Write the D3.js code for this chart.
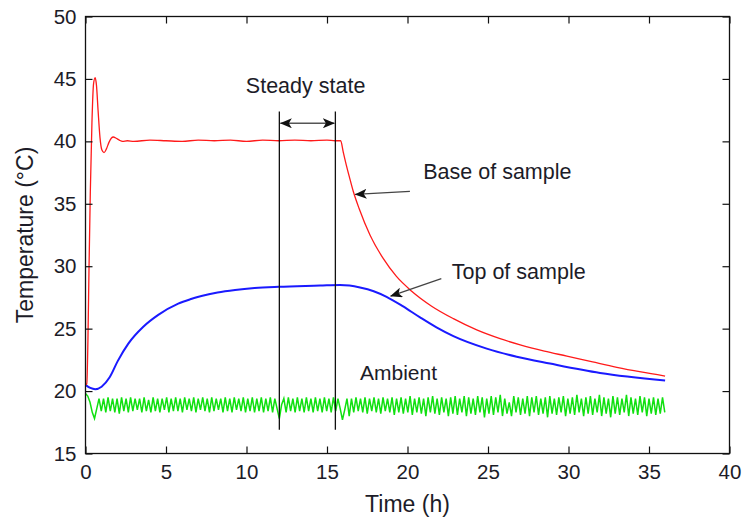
<!DOCTYPE html>
<html><head><meta charset="utf-8">
<script src="https://cdn.jsdelivr.net/npm/d3@7"></script>
<style>
body{margin:0;background:#fff;}
svg{display:block;}
text{font-family:"Liberation Sans",Arial,sans-serif;fill:#1c1c28;}
</style></head>
<body>
<svg id="chart" width="743" height="519"></svg>
<script>
// ---------- data ----------
const xTicks = [0,5,10,15,20,25,30,35,40];
const yTicks = [15,20,25,30,35,40,45,50];

const baseTime = [0,0.08,0.15,0.22,0.3,0.4,0.5,0.6,0.68,0.78,0.9,1.02,1.15,1.3,1.45,1.6,1.73,1.9,2.1,2.3,2.6,3,4,5,6,7,8,9,10,11,12,13,14,15,15.5,15.85,16.0,16.2,16.4,16.63,17.0,17.67,18.5,19.3,20.26,21.5,22.85,24.3,25.75,27,28.5,29.9,31.5,33,34.5,36];
const baseTemp = [20.5,20.6,24,30,36,41.5,44.6,45.1,44.5,42.5,40.3,39.3,39.1,39.4,39.9,40.25,40.35,40.25,40.1,40.0,40.05,40.0,40.1,40.05,40.0,40.1,40.05,40.1,40.0,40.1,40.05,40.1,40.05,40.1,40.05,40.05,39.2,38.1,37.1,36.0,34.6,32.5,30.6,29.2,28.0,26.8,25.8,24.9,24.2,23.7,23.2,22.8,22.33,21.9,21.53,21.2];

const topTime = [0,0.3,0.6,1.0,1.5,2.0,2.66,3.59,4.52,5.76,6.5,7.2,8.2,9.29,10.5,12,14.57,15.8,16.4,17.05,17.9,18.7,19.7,20.78,21.8,22.85,24.92,26.78,28.85,31.96,36];
const topTemp = [20.5,20.25,20.15,20.35,21.1,22.4,23.8,25.15,26.1,27.0,27.35,27.62,27.9,28.1,28.25,28.35,28.45,28.5,28.45,28.3,28.0,27.55,26.8,25.9,25.1,24.4,23.4,22.75,22.2,21.45,20.85];

const ambientStep = 0.14; // hours between ambient samples
const ambientTemp = [
19.8,19.6,19.1,18.3,17.8,18.6,19.4,18.4,19.4,18.3,19.5,18.4,19.4,18.3,19.4,18.2,19.5,18.4,19.4,18.3,
19.5,18.4,19.4,18.5,19.4,18.3,19.5,18.4,19.3,18.3,19.5,18.4,19.4,18.3,19.4,18.5,19.5,18.3,19.4,18.4,
19.5,18.4,19.4,18.3,19.5,18.5,19.4,18.4,19.5,18.3,19.4,18.5,19.5,18.4,19.4,18.3,19.5,18.4,19.4,18.5,
19.4,18.3,19.5,18.4,19.4,18.3,19.5,18.5,19.4,18.4,19.5,18.3,19.4,18.4,19.5,18.3,19.4,18.4,19.5,18.3,
19.4,18.4,19.5,18.3,19.4,18.6,17.8,18.9,19.4,18.3,19.5,18.4,19.4,18.3,19.5,18.4,19.4,18.3,19.5,18.4,
19.4,18.3,19.5,18.4,19.4,18.3,19.5,18.4,19.4,18.3,19.5,18.4,19.4,18.6,17.7,18.5,19.4,18.0,19.4,18.3,
19.5,18.4,19.4,18.3,19.5,18.2,19.4,18.4,19.5,18.3,19.4,18.2,19.5,18.4,19.4,18.3,19.5,18.1,19.4,18.3,
19.5,18.2,19.4,18.3,19.6,18.1,19.4,18.3,19.5,18.2,19.4,18.0,19.5,18.3,19.6,18.2,19.4,18.1,19.5,18.3,
19.4,18.0,19.5,18.2,19.6,18.1,19.4,18.3,19.6,18.0,19.5,18.2,19.4,18.1,19.6,18.3,19.5,17.9,19.4,18.2,
19.6,18.1,19.5,18.3,19.7,18.0,19.4,18.2,19.1,18.0,19.6,18.3,19.5,18.1,19.4,18.2,19.6,18.0,19.5,18.3,
19.6,18.1,19.4,18.2,19.5,17.9,19.6,18.2,19.4,18.1,19.5,18.3,19.6,18.0,19.4,18.2,19.5,18.1,19.7,18.3,
19.4,18.0,19.5,18.2,19.6,18.1,19.4,18.3,19.7,18.0,19.5,18.2,19.4,17.9,19.6,18.2,19.5,18.1,19.4,18.3,
19.7,18.0,19.5,18.2,19.4,18.1,19.6,18.3,19.5,18.0,19.4,18.2,19.5,18.1,19.4,18.2,19.5,18.3];

// steady-state window (h) and marker extent (°C)
const steadyStart = 12.04, steadyEnd = 15.52;
const steadyLineTemp = [16.9, 42.4];
const steadyArrowTemp = 41.45;

// annotation labels: text anchor (t, T) and arrow from (t,T) to (t,T)
const labels = [
  {text:"Steady state",   t:13.67, T:43.85, anchor:"middle"},
  {text:"Base of sample", t:20.98, T:37.0,  anchor:"start"},
  {text:"Top of sample",  t:22.75, T:29.0,  anchor:"start"},
  {text:"Ambient",        t:17.05, T:20.85, anchor:"start"}
];
const arrows = [
  {t1:20.15, T1:36.0, t2:16.75, T2:35.75},
  {t1:22.1,  T1:29.0, t2:18.95, T2:27.6}
];

// ---------- chart ----------
const svg = d3.select("#chart");
const L = 85.5, R = 729.5, T0 = 16.5, B = 453.5;
const x = d3.scaleLinear().domain([0,40]).range([L,R]);
const y = d3.scaleLinear().domain([15,50]).range([B,T0]);

const plot = svg.append("g");

// series
const line = d3.line().x(d=>x(d[0])).y(d=>y(d[1]));
const ambientPts = ambientTemp.map((v,i)=>[i*ambientStep, v]);
plot.append("path").datum(ambientPts).attr("fill","none").attr("stroke","#10e010").attr("stroke-width",1.5).attr("d",line);

const smooth = d3.line().x(d=>x(d[0])).y(d=>y(d[1])).curve(d3.curveMonotoneX);
const topPts = topTime.map((t,i)=>[t, topTemp[i]]);
plot.append("path").datum(topPts).attr("fill","none").attr("stroke","#1a1aff").attr("stroke-width",2)
  .attr("d", smooth);

const basePts = baseTime.map((t,i)=>[t, baseTemp[i]]);
plot.append("path").datum(basePts).attr("fill","none").attr("stroke","#ff1a1a").attr("stroke-width",1.3)
  .attr("d", smooth);

// axes (ticks inward on all sides)
const fs = "20.5px";
const ax = svg.append("g").attr("transform",`translate(0,${B})`)
  .call(d3.axisBottom(x).tickValues(xTicks).tickSizeInner(-7).tickSizeOuter(0).tickPadding(9));
const axTop = svg.append("g").attr("transform",`translate(0,${T0})`)
  .call(d3.axisTop(x).tickValues(xTicks).tickSizeInner(-7).tickSizeOuter(0).tickFormat(""));
const ay = svg.append("g").attr("transform",`translate(${L},0)`)
  .call(d3.axisLeft(y).tickValues(yTicks).tickSizeInner(-7).tickSizeOuter(0).tickPadding(9));
const ayR = svg.append("g").attr("transform",`translate(${R},0)`)
  .call(d3.axisRight(y).tickValues(yTicks).tickSizeInner(-7).tickSizeOuter(0).tickFormat(""));
[ax,axTop,ay,ayR].forEach(g=>{
  g.select(".domain").remove();
  g.selectAll(".tick line").attr("stroke","#111").attr("stroke-width",1.2);
  g.selectAll(".tick text").style("font-size",fs).attr("fill","#1c1c28")
   .style("font-family",'"Liberation Sans",Arial,sans-serif');
});
ax.selectAll(".tick text").attr("dy","0.8em");

svg.append("rect").attr("x",L).attr("y",T0).attr("width",R-L).attr("height",B-T0)
  .attr("fill","none").attr("stroke","#111").attr("stroke-width",1.3);

// axis titles
svg.append("text").attr("x",(L+R)/2).attr("y",512).attr("text-anchor","middle")
  .style("font-size","23px").text("Time (h)");
svg.append("text").attr("transform",`translate(33,${(T0+B)/2}) rotate(-90)`).attr("text-anchor","middle")
  .style("font-size","23px").text("Temperature (°C)");

// steady-state markers
[steadyStart, steadyEnd].forEach(t=>{
  svg.append("line").attr("x1",x(t)).attr("x2",x(t)).attr("y1",y(steadyLineTemp[0])).attr("y2",y(steadyLineTemp[1]))
    .attr("stroke","#111").attr("stroke-width",1.3);
});
const defs = svg.append("defs");
defs.append("marker").attr("id","ah").attr("viewBox","0 0 12 10").attr("refX",11.5).attr("refY",5)
  .attr("markerWidth",12).attr("markerHeight",10).attr("markerUnits","userSpaceOnUse").attr("orient","auto-start-reverse")
  .append("path").attr("d","M0,0 L12,5 L0,10 L3,5 Z").attr("fill","#111");
svg.append("line").attr("x1",x(steadyStart)+1).attr("x2",x(steadyEnd)-1)
  .attr("y1",y(steadyArrowTemp)).attr("y2",y(steadyArrowTemp))
  .attr("stroke","#555").attr("stroke-width",1.3)
  .attr("marker-start","url(#ah)").attr("marker-end","url(#ah)");

arrows.forEach(a=>{
  svg.append("line").attr("x1",x(a.t1)).attr("y1",y(a.T1)).attr("x2",x(a.t2)).attr("y2",y(a.T2))
    .attr("stroke","#444").attr("stroke-width",1.3).attr("marker-end","url(#ah)");
});

labels.forEach(l=>{
  svg.append("text").attr("x",x(l.t)).attr("y",y(l.T)).attr("text-anchor",l.anchor)
    .style("font-size", l.text==="Ambient" ? "21px" : "21.5px").text(l.text);
});
</script>
</body></html>
